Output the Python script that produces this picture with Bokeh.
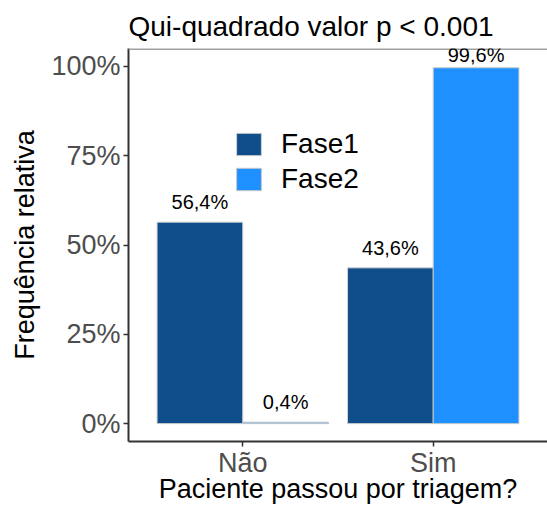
from bokeh.plotting import figure
from bokeh.models import (ColumnDataSource, FactorRange, FixedTicker, PrintfTickFormatter,
                          Span, LabelSet)
from bokeh.transform import dodge
from bokeh.core.properties import value
from bokeh.embed import file_html
from bokeh.resources import INLINE

# ---- data ----
categories = ["Não", "Sim"]
fase1 = [56.4, 43.6]
fase2 = [0.4, 99.6]
series_names = ["Fase1", "Fase2"]
y_ticks = [0, 25, 50, 75, 100]
title_text = "Qui-quadrado valor p < 0.001"
x_label = "Paciente passou por triagem?"
y_label = "Frequência relativa"

FONT = "Liberation Sans"
C1 = "#104E8B"
C2 = "#1E90FF"


def fmt(v):
    return f"{v:.1f}".replace(".", ",") + "%"


def label_pos(v):
    # label sits just above its bar, but never beyond the panel top
    return min(v + 3.6, 101.3)


src = ColumnDataSource(dict(
    cat=categories,
    f1=fase1,
    f2=fase2,
    l1=[fmt(v) for v in fase1],
    l2=[fmt(v) for v in fase2],
    y1=[label_pos(v) for v in fase1],
    y2=[label_pos(v) for v in fase2],
))

p = figure(width=547, height=507, output_backend="svg", toolbar_location=None,
           x_range=FactorRange(factors=categories, range_padding=0.1),
           y_range=(-5, 105),
           min_border_left=128, min_border_right=0, min_border_top=48, min_border_bottom=66,
           title=title_text)

p.vbar(x=dodge("cat", -0.225, range=p.x_range), top="f1", bottom=0, width=0.45, source=src,
       fill_color=C1, line_color="#D0D0D0", line_width=1, legend_label=series_names[0])
p.vbar(x=dodge("cat", 0.225, range=p.x_range), top="f2", bottom=0, width=0.45, source=src,
       fill_color=C2, line_color="#C8C8C8", line_width=1, legend_label=series_names[1])

# top panel border
p.add_layout(Span(location=105, dimension="width", line_color="#A0A0A0", line_width=3))

lab1 = LabelSet(x=dodge("cat", -0.225, range=p.x_range), y="y1", text="l1", source=src,
                text_align="center", text_baseline="alphabetic",
                text_font=value(FONT), text_font_size="20px", text_color="black")
lab2 = LabelSet(x=dodge("cat", 0.225, range=p.x_range), y="y2", text="l2", source=src,
                text_align="center", text_baseline="alphabetic",
                text_font=value(FONT), text_font_size="20px", text_color="black")
p.add_layout(lab1)
p.add_layout(lab2)

# styling
p.grid.visible = False
p.outline_line_color = None
p.background_fill_color = "white"
p.border_fill_color = "white"

p.title.text_font = FONT
p.title.text_font_size = "28px"
p.title.text_font_style = "normal"
p.title.text_color = "black"
p.title.align = "left"
p.title.offset = 0
p.title.standoff = 14

for ax in (p.xaxis[0], p.yaxis[0]):
    ax.axis_line_color = "#333333"
    ax.axis_line_width = 2
    ax.major_tick_line_color = "#333333"
    ax.major_tick_line_width = 1.5
    ax.major_tick_out = 5
    ax.major_tick_in = 0
    ax.minor_tick_line_color = None
    ax.major_label_text_font = FONT
    ax.major_label_text_font_size = "27px"
    ax.major_label_text_color = "#4D4D4D"
    ax.axis_label_text_font = FONT
    ax.axis_label_text_font_size = "27px"
    ax.axis_label_text_font_style = "normal"
    ax.axis_label_text_color = "black"

p.yaxis.ticker = FixedTicker(ticks=y_ticks)
p.yaxis.formatter = PrintfTickFormatter(format="%d%%")
p.yaxis.axis_label = y_label
p.yaxis.major_label_standoff = 3
p.yaxis.axis_label_standoff = 8

p.xaxis.axis_label = x_label
p.xaxis.major_label_standoff = 1
p.xaxis.axis_label_standoff = -7
p.x_range.group_padding = 0

lg = p.legend[0]
lg.location = (105, 246)
lg.padding = 0
lg.margin = 0
lg.spacing = 3
lg.border_line_color = None
lg.background_fill_alpha = 0
lg.glyph_width = 31
lg.glyph_height = 28
lg.label_height = 28
lg.label_standoff = 17
lg.label_text_font = FONT
lg.label_text_font_size = "28px"
lg.label_text_color = "black"
lg.label_text_baseline = "middle"

open("out.html", "w").write(file_html(p, INLINE))
